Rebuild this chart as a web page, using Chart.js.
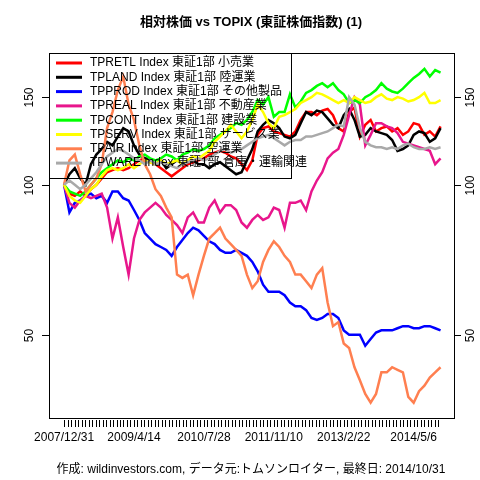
<!DOCTYPE html>
<html><head><meta charset="utf-8">
<script src="https://cdn.jsdelivr.net/npm/chart.js@4"></script>
<style>html,body{margin:0;padding:0;background:#fff}#w{width:480px;height:480px}</style>
</head><body><div id="w"><canvas id="c" width="480" height="480"></canvas></div>
<script>
const seriesNames = ["TPRETL Index 東証1部 小売業","TPLAND Index 東証1部 陸運業","TPPROD Index 東証1部 その他製品","TPREAL Index 東証1部 不動産業","TPCONT Index 東証1部 建設業","TPSERV Index 東証1部 サービス業","TPAIR Index 東証1部 空運業","TPWARE Index 東証1部 倉庫・運輸関連"];
const seriesColors = ["#ff0000","#000000","#0000ff","#e8168c","#00ff00","#ffff00","#ff7f50","#a9a9a9"];
const tickLabels = ["2007/12/31","2009/4/14","2010/7/28","2011/11/10","2013/2/22","2014/5/6"];
const yTicks = [50,100,150];
const retl = [100,96,95,97,95,98,100,103,106,107,108,107,108,110,112,113,111,110,108,106,104,106,108,110,111,112,113,115,116,117,116,114,113,110,107,112,126,130,131,128,127,126,125,128,135,140,140,138,141,142,138,130,128,140,143,125,132,135,128,130,131,128,130,126,128,133,132,126,128,125,131];
const land = [100,105,108,103,100,110,115,118,122,120,125,130,128,120,115,113,112,110,112,108,110,112,110,111,112,110,110,108,110,111,109,107,105,106,112,118,128,132,135,133,130,125,124,126,133,140,138,141,140,136,132,130,138,142,135,125,126,130,128,127,126,123,117,118,120,126,128,127,122,124,130];
const prod = [100,88,92,93,95,96,94,95,92,97,97,94,93,89,85,80,78,76,75,74,72,75,77.5,80,82,81,79,77,76,74,73,73,74,73,72,70,67,63,61,61,61,60,58,57,57,56,54,53.5,54,55,55,54,51,50,50,50,47.5,49,50.5,51,51,51,51.5,52,52,51.5,51.5,52,52,51.5,51];
const real = [100,92,90,93,95,94,95,96,90,78,86,75,66,78,85,88,90,92,90,87,85,83,80,86,88,84,84,90,93,88,91,91,89,84,82,85,87,85,86,90,89,82,92,92,93,89,97,102,106,113,116,118,126,138,150,145,120,126,133,133,131,130,127,122,121,120,119,118,117,110,113];
const cont = [100,97,96,95,97,100,103,106,108,110,112,111,113,112,114,115,113,112,113,115,114,112,115,116,118,117,118,120,124,126,128,130,133,132,135,140,148,145,150,137,140,140,152,143,147,153,155,158,160,157,160,155,152,146,148,146,150,152,155,160,156,154,153,156,160,164,167,171,165,170,168];
const serv = [100,95,93,92,95,98,100,104,107,108,107,108,110,108,110,112,111,110,112,110,111,112,110,112,114,113,115,117,122,125,128,132,128,124,128,135,145,140,133,130,137,138,140,142,146,148,150,153,152,150,148,146,148,146,150,148,146,147,150,152,149,148,150,149,147,148,150,153,146,146,148];
const air = [100,112,115,105,97,100,103,110,130,140,155,165,145,135,120,110,105,98,95,90,86,66,65,66,60,66,72,78,80,82,78,76,74,72,66,62,64,70,74,77,75,72,70,66,66,64,62,66,68,58,52,53,48,47,43,40.5,38,36.5,38,42,42,43,42.5,42,37.5,36.5,38.5,39.5,41,42,43];
const ware = [100,102,100,98,100,103,106,110,114,116,118,117,115,113,112,110,112,110,111,110,109,108,110,111,112,113,112,113,115,117,118,116,117,118,120,122,124,125,126,124,122,120,122,123,123,125,125,126,127,128,130,132,131,150,145,130,122,120,119,119,118,119,118,120,121,119,118,118,119,118,119];
const allSeries = [retl,land,prod,real,cont,serv,air,ware];
const labelStep = 13;

const FONT = '"Liberation Sans","Noto Sans CJK JP",sans-serif';
const datasets = allSeries.map((s,i)=>({label:seriesNames[i],data:s.map((v,j)=>({x:j,y:v})),borderColor:seriesColors[i],borderWidth:2.5,pointRadius:0,fill:false,tension:0,order:7-i}));

const deco = {
  id:'deco',
  afterDatasetsDraw(chart){
    const ctx=chart.ctx, a=chart.chartArea, xs=chart.scales.x, ys=chart.scales.y;
    ctx.save();
    ctx.strokeStyle='#000'; ctx.lineWidth=1; ctx.fillStyle='#000';
    ctx.strokeRect(a.left+0.5,a.top+0.5,a.right-a.left,a.bottom-a.top);
    // x ticks
    ctx.beginPath();
    for(let t=0;t<=70.01;t+=0.65){const px=Math.round(xs.getPixelForValue(t))+0.5;ctx.moveTo(px,a.bottom+2);ctx.lineTo(px,a.bottom+9);}
    ctx.stroke();
    ctx.font='12px '+FONT; ctx.textAlign='center'; ctx.textBaseline='middle';
    tickLabels.forEach((l,k)=>ctx.fillText(l,xs.getPixelForValue(k*labelStep),a.bottom+20));
    // y ticks both sides
    yTicks.forEach(v=>{
      const py=Math.round(ys.getPixelForValue(v))+0.5;
      ctx.beginPath();ctx.moveTo(a.left-7,py);ctx.lineTo(a.left,py);ctx.moveTo(a.right,py);ctx.lineTo(a.right+7,py);ctx.stroke();
      [[a.left-19],[a.right+17]].forEach(([x])=>{ctx.save();ctx.translate(x,py);ctx.rotate(-Math.PI/2);ctx.fillText(String(v),0,0);ctx.restore();});
    });
    // legend
    const lx=a.left, ly=a.top, lw=242, lh=125;
    ctx.strokeRect(lx+0.5,ly+0.5,lw,lh);
    ctx.textAlign='left';
    seriesNames.forEach((n,i)=>{
      const y=ly+10+i*14.3;
      ctx.strokeStyle=seriesColors[i]; ctx.lineWidth=3;
      ctx.beginPath();ctx.moveTo(lx+7,y);ctx.lineTo(lx+33,y);ctx.stroke();
      ctx.fillStyle='#000'; ctx.fillText(n,lx+41,y);
    });
    // title & caption
    ctx.textAlign='center';
    ctx.font='bold 13px '+FONT; ctx.fillText('相対株価 vs TOPIX (東証株価指数) (1)',251,22);
    ctx.font='12px '+FONT; ctx.fillText('作成: wildinvestors.com, データ元:トムソンロイター, 最終日: 2014/10/31',251,470);
    ctx.restore();
  }
};

new Chart(document.getElementById('c'),{
  type:'line',
  data:{datasets},
  options:{
    responsive:false,animation:false,
    layout:{padding:{left:49,right:26,top:53,bottom:62}},
    plugins:{legend:{display:false},tooltip:{enabled:false}},
    scales:{
      x:{type:'linear',display:false,min:-2.8,max:72.5},
      y:{type:'logarithmic',display:false,min:34,max:184}
    }
  },
  plugins:[deco]
});
</script></body></html>
